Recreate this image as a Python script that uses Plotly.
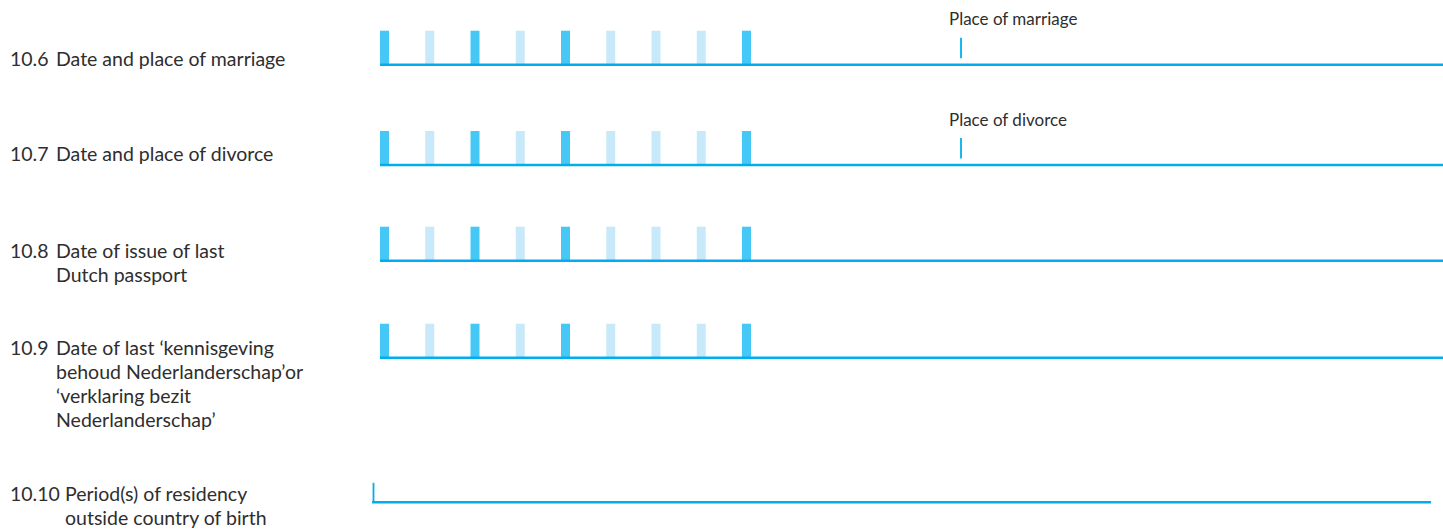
import plotly.graph_objects as go

# ---- data ----
row_numbers = ["10.6", "10.7", "10.8", "10.9", "10.10"]
row_texts = [
    ["Date and place of marriage"],
    ["Date and place of divorce"],
    ["Date of issue of last", "Dutch passport"],
    ["Date of last \u2018kennisgeving", "behoud Nederlanderschap\u2019or",
     "\u2018verklaring bezit", "Nederlanderschap\u2019"],
    ["Period(s) of residency", "outside country of birth"],
]
row_has_date = [True, True, True, True, False]
row_place_label = ["Place of marriage", "Place of divorce", None, None, None]
date_slot_kind = ["dark", "light", "dark", "light", "dark", "light", "light", "light", "dark"]

# ---- layout constants (pixels) ----
W, H = 1443, 532
line_y = [64.7, 165.0, 260.7, 357.7, 502.3]
text_y = [58.0, 153.5, 250.5, 347.5, 493.0]
line_step = 24.0
line_x = [(380, 1443), (380, 1443), (380, 1443), (380, 1443), (372, 1431)]
num_x = 8
body_x = [54, 54, 54, 54, 63]
slot_x0 = 380
slot_step = 45.25
slot_w = 9
slot_h = 34
place_tick_x = 961
place_text_x = 947

LINE_COL = "#00AEEF"
DARK = "#45C8F5"
LIGHT = "#C7E9F9"
TXT = "#2E2E2E"
FONT = "Lato"

fig = go.Figure()

for i in range(len(row_numbers)):
    y = line_y[i]
    if row_has_date[i]:
        for kind in ("dark", "light"):
            xs = [slot_x0 + k * slot_step + slot_w / 2 for k, s in enumerate(date_slot_kind) if s == kind]
            fig.add_trace(go.Bar(
                x=xs, y=[-slot_h] * len(xs), base=[y] * len(xs), width=[slot_w] * len(xs),
                marker=dict(color=DARK if kind == "dark" else LIGHT, line=dict(width=0)),
                showlegend=False, hoverinfo="skip"))
    x0, x1 = line_x[i]
    fig.add_trace(go.Scatter(x=[x0, x1], y=[y, y], mode="lines",
                             line=dict(color=LINE_COL, width=2.5),
                             showlegend=False, hoverinfo="skip"))
    if row_place_label[i]:
        fig.add_trace(go.Scatter(x=[place_tick_x, place_tick_x], y=[y - 27, y - 6.5], mode="lines",
                                 line=dict(color=LINE_COL, width=1.8),
                                 showlegend=False, hoverinfo="skip"))
        fig.add_annotation(x=place_text_x, y=y - 46, text=row_place_label[i], showarrow=False,
                           xanchor="left", yanchor="middle", xref="x", yref="y",
                           font=dict(family=FONT, size=17, color=TXT))
    if not row_has_date[i]:
        fig.add_trace(go.Scatter(x=[x0 + 1.5, x0 + 1.5], y=[y - 19.5, y], mode="lines",
                                 line=dict(color=LINE_COL, width=1.8),
                                 showlegend=False, hoverinfo="skip"))
    fig.add_annotation(x=num_x, y=text_y[i], text=row_numbers[i], showarrow=False,
                       xanchor="left", yanchor="middle", xref="x", yref="y",
                       font=dict(family=FONT, size=19.5, color=TXT))
    for j, t in enumerate(row_texts[i]):
        fig.add_annotation(x=body_x[i], y=text_y[i] + j * line_step, text=t, showarrow=False,
                           xanchor="left", yanchor="middle", xref="x", yref="y",
                           font=dict(family=FONT, size=19.5, color=TXT))

fig.update_layout(
    width=W, height=H, margin=dict(l=0, r=0, t=0, b=0),
    paper_bgcolor="white", plot_bgcolor="white", barmode="overlay",
    xaxis=dict(range=[0, W], visible=False, fixedrange=True),
    yaxis=dict(range=[H, 0], visible=False, fixedrange=True),
)
fig.write_html("out.html", config={"displayModeBar": False},
               post_script="document.body.style.margin='0px';document.body.style.overflow='hidden';")
